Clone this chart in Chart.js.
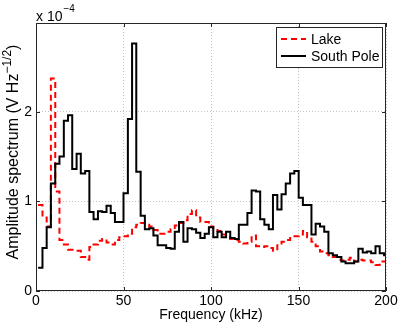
<!DOCTYPE html>
<html>
<head>
<meta charset="utf-8">
<script src="https://cdn.jsdelivr.net/npm/chart.js@4.4.0/dist/chart.umd.min.js"></script>
<style>
  html, body { margin: 0; padding: 0; background: #fff; }
</style>
</head>
<body>
<canvas id="spec" width="401" height="326"></canvas>
<script>
// left edge of each frequency bin (kHz), stairs style
const freqs = [
  1.2, 3.7, 6.1, 8.5, 11.0, 13.4, 15.9, 18.3, 20.7, 23.2,
  25.6, 28.1, 30.5, 32.9, 35.4, 37.8, 40.3, 42.7, 45.1, 47.6,
  50.0, 52.5, 54.9, 57.3, 59.8, 62.2, 64.7, 67.1, 69.5, 72.0,
  74.4, 76.9, 79.3, 81.7, 84.2, 86.6, 89.1, 91.5, 93.9, 96.4,
  98.8, 101.3, 103.7, 106.1, 108.6, 111.0, 113.5, 115.9, 118.3, 120.8,
  123.2, 125.7, 128.1, 130.5, 133.0, 135.4, 137.9, 140.3, 142.7, 145.2,
  147.6, 150.1, 152.5, 154.9, 157.4, 159.8, 162.3, 164.7, 167.1, 169.6,
  172.0, 174.5, 176.9, 179.3, 181.8, 184.2, 186.7, 189.1, 191.5, 194.0,
  196.4, 198.9
];
const freqEnd = 201.3;

// amplitude spectrum, in units of 1e-4 V Hz^-1/2
const lake = [
  0.96, 0.82, 0.72, 2.37, 1.11, 0.57, 0.52, 0.46, 0.46, 0.45,
  0.38, 0.35, 0.49, 0.52, 0.56, 0.58, 0.54, 0.52, 0.57, 0.60,
  0.61, 0.64, 0.71, 0.74, 0.76, 0.74, 0.72, 0.68, 0.64, 0.64,
  0.66, 0.69, 0.73, 0.76, 0.79, 0.86, 0.90, 0.82, 0.77, 0.77,
  0.72, 0.70, 0.67, 0.63, 0.60, 0.58, 0.57, 0.55, 0.53, 0.55,
  0.62, 0.50, 0.49, 0.50, 0.48, 0.45, 0.53, 0.55, 0.57, 0.61,
  0.61, 0.63, 0.67, 0.60, 0.55, 0.50, 0.44, 0.42, 0.40, 0.38,
  0.35, 0.34, 0.35, 0.37, 0.33, 0.35, 0.34, 0.34, 0.32, 0.29,
  0.33, 0.33
];
const southPole = [
  0.26, 0.48, 0.71, 1.20, 1.42, 1.50, 1.90, 1.96, 1.36, 1.53,
  1.31, 1.34, 0.88, 0.80, 0.89, 0.88, 0.95, 0.87, 0.77, 0.77,
  1.09, 1.92, 2.76, 1.33, 0.84, 0.69, 0.70, 0.62, 0.51, 0.51,
  0.48, 0.47, 0.66, 0.77, 0.55, 0.70, 0.69, 0.65, 0.59, 0.64,
  0.71, 0.60, 0.66, 0.60, 0.66, 0.59, 0.58, 0.74, 0.74, 0.87,
  1.12, 1.11, 0.80, 0.74, 0.69, 1.07, 0.91, 1.08, 1.20, 1.31,
  1.34, 1.04, 0.96, 0.96, 0.63, 0.75, 0.72, 0.66, 0.42, 0.40,
  0.38, 0.33, 0.31, 0.31, 0.33, 0.47, 0.43, 0.44, 0.42, 0.50,
  0.42, 0.40
];

const xTicks = [0, 50, 100, 150, 200];
const yTicks = [0, 1, 2];

const FONT = '"Liberation Sans", Arial, Helvetica, sans-serif';
const AXIS = '#262626';

// stairs: each value holds until the next bin edge
function stairs(vals) {
  const pts = freqs.map((f, i) => ({x: f, y: vals[i]}));
  pts.push({x: freqEnd, y: vals[vals.length - 1]});
  return pts;
}

const series = [
  {label: 'Lake', data: lake, color: '#ff0000', dash: [6, 4]},
  {label: 'South Pole', data: southPole, color: '#000000', dash: []}
];

const decorations = {
  id: 'decorations',
  afterDatasetsDraw(chart) {
    const {ctx, chartArea: a} = chart;
    const xs = chart.scales.x, ys = chart.scales.y;
    ctx.save();

    // box + inward ticks
    ctx.strokeStyle = AXIS;
    ctx.lineWidth = 1;
    ctx.strokeRect(a.left + 0.5, a.top + 0.5, a.right - a.left - 1, a.bottom - a.top - 1);
    ctx.beginPath();
    xTicks.forEach(v => {
      const px = Math.round(xs.getPixelForValue(v)) + 0.5;
      ctx.moveTo(px, a.bottom); ctx.lineTo(px, a.bottom - 4);
      ctx.moveTo(px, a.top); ctx.lineTo(px, a.top + 4);
    });
    yTicks.forEach(v => {
      const py = Math.round(ys.getPixelForValue(v)) + 0.5;
      ctx.moveTo(a.left, py); ctx.lineTo(a.left + 4, py);
      ctx.moveTo(a.right, py); ctx.lineTo(a.right - 4, py);
    });
    ctx.stroke();

    ctx.fillStyle = '#000';
    ctx.textBaseline = 'alphabetic';
    ctx.textAlign = 'left';

    // exponent label above the y axis
    ctx.font = '14px ' + FONT;
    ctx.fillText('x 10', a.left, a.top - 2);
    const wx = ctx.measureText('x 10').width;
    ctx.font = '10px ' + FONT;
    ctx.fillText('\u22124', a.left + wx + 1, a.top - 11);

    // y title with superscript
    ctx.save();
    ctx.translate(18, (a.top + a.bottom) / 2 - 5);
    ctx.rotate(-Math.PI / 2);
    const main = 'Amplitude spectrum (V Hz', sup = '\u22121/2', tail = ')';
    ctx.font = '16px ' + FONT;
    const w1 = ctx.measureText(main).width, w3 = ctx.measureText(tail).width;
    ctx.font = '12px ' + FONT;
    const w2 = ctx.measureText(sup).width;
    let sx = -(w1 + w2 + w3) / 2;
    ctx.font = '16px ' + FONT;
    ctx.fillText(main, sx, 0);
    ctx.font = '12px ' + FONT;
    ctx.fillText(sup, sx + w1, -7);
    ctx.font = '16px ' + FONT;
    ctx.fillText(tail, sx + w1 + w2, 0);
    ctx.restore();

    // legend box
    const L = {x: a.right - 110, y: a.top + 4, w: 106, h: 40};
    ctx.fillStyle = '#fff';
    ctx.fillRect(L.x, L.y, L.w, L.h);
    ctx.strokeStyle = AXIS;
    ctx.strokeRect(L.x + 0.5, L.y + 0.5, L.w, L.h);
    ctx.font = '14px ' + FONT;
    ctx.textBaseline = 'middle';
    series.forEach((s, i) => {
      const y = L.y + 12 + i * 17;
      ctx.strokeStyle = s.color;
      ctx.lineWidth = 2;
      ctx.setLineDash(s.dash);
      ctx.beginPath();
      ctx.moveTo(L.x + 5, y); ctx.lineTo(L.x + 30, y);
      ctx.stroke();
      ctx.setLineDash([]);
      ctx.fillStyle = '#000';
      ctx.fillText(s.label, L.x + 35, y + 1);
    });
    ctx.restore();
  }
};

new Chart(document.getElementById('spec'), {
  type: 'line',
  data: {
    datasets: series.map((s, i) => ({
      label: s.label,
      data: stairs(s.data),
      borderColor: s.color,
      borderWidth: 2,
      borderDash: s.dash,
      stepped: true,
      pointRadius: 0,
      fill: false,
      order: i === 0 ? 1 : 0
    }))
  },
  options: {
    responsive: false,
    animation: false,
    layout: {padding: {top: 23, right: 15, left: 0, bottom: 0}},
    plugins: {legend: {display: false}, tooltip: {enabled: false}},
    scales: {
      x: {
        type: 'linear',
        min: 0,
        max: 200,
        afterBuildTicks: s => { s.ticks = xTicks.map(v => ({value: v})); },
        afterFit: s => { s.height = 35; },
        ticks: {color: '#000', font: {family: FONT, size: 14}, padding: 2, maxRotation: 0},
        grid: {color: '#c4c4c4', drawTicks: false},
        border: {display: false, dash: [1, 2]},
        title: {display: true, text: 'Frequency (kHz)', color: '#000',
                font: {family: FONT, size: 14}, padding: {top: 0, bottom: 2}}
      },
      y: {
        type: 'linear',
        min: 0,
        max: 2.99,
        afterBuildTicks: s => { s.ticks = yTicks.map(v => ({value: v})); },
        afterFit: s => { s.width = 36; },
        ticks: {color: '#000', font: {family: FONT, size: 14}, padding: 4},
        grid: {color: '#c4c4c4', drawTicks: false},
        border: {display: false, dash: [1, 2]}
      }
    }
  },
  plugins: [decorations]
});
</script>
</body>
</html>
